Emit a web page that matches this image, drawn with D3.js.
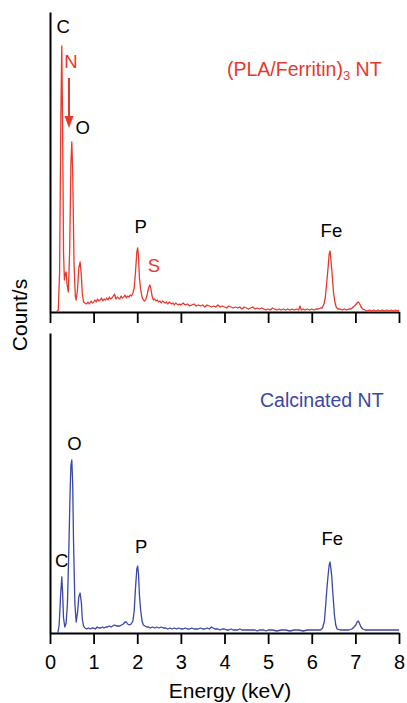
<!DOCTYPE html>
<html>
<head>
<meta charset="utf-8">
<script src="https://cdn.jsdelivr.net/npm/d3@7"></script>
<style>
  body { margin: 0; background: #fff; }
  svg text { font-family: "Liberation Sans", Arial, sans-serif; }
</style>
</head>
<body>
<div id="chart"></div>
<script>
// EDS spectra, energy (keV) vs counts (arbitrary units)
const energyTicks = [0, 1, 2, 3, 4, 5, 6, 7, 8];

const redSpectrum = [
  [0.15,0],[0.19,2],[0.22,40],[0.25,200],[0.27,266],[0.29,180],[0.31,60],[0.33,32],[0.35,38],[0.37,40],
  [0.39,28],[0.42,20],[0.45,60],[0.48,150],[0.50,170],[0.52,140],[0.55,50],[0.58,16],[0.60,12],[0.63,22],
  [0.66,44],[0.69,50],[0.72,36],[0.74,18],[0.77,10],[0.80,9],[0.84,8],[0.87,10],[0.90,8],[0.94,11],
  [0.97,9],[1.00,10],[1.03,12],[1.06,10],[1.09,13],[1.12,11],[1.15,12],[1.18,14],[1.21,11],[1.24,13],
  [1.27,12],[1.30,14],[1.33,12],[1.36,15],[1.39,13],[1.42,14],[1.45,16],[1.48,18],[1.51,13],[1.54,15],
  [1.57,14],[1.60,13],[1.63,16],[1.66,14],[1.69,15],[1.72,17],[1.75,14],[1.78,16],[1.81,15],[1.84,17],
  [1.87,16],[1.90,19],[1.93,24],[1.96,40],[1.99,60],[2.01,64],[2.03,55],[2.05,34],[2.08,22],[2.11,15],
  [2.14,12],[2.17,11],[2.20,13],[2.23,18],[2.26,24],[2.29,27],[2.31,24],[2.34,16],[2.37,12],[2.40,13],
  [2.43,11],[2.46,12],[2.49,10],[2.52,11],[2.55,9],[2.58,11],[2.61,10],[2.64,9],[2.67,10],[2.70,8],
  [2.73,10],[2.76,9],[2.79,8],[2.82,9],[2.85,7],[2.88,9],[2.91,8],[2.94,7],[2.97,8],[3.00,7],
  [3.05,9],[3.10,7],[3.15,8],[3.20,6],[3.25,7],[3.30,8],[3.35,6],[3.40,7],[3.45,6],[3.50,7],
  [3.55,5],[3.60,7],[3.65,6],[3.70,5],[3.75,6],[3.80,5],[3.85,7],[3.90,5],[3.95,6],[4.00,5],
  [4.05,4],[4.10,6],[4.15,5],[4.20,4],[4.25,5],[4.30,4],[4.35,5],[4.40,3],[4.45,5],[4.50,4],
  [4.55,3],[4.60,4],[4.65,5],[4.70,3],[4.75,4],[4.80,3],[4.85,4],[4.90,3],[4.95,2],[5.00,3],
  [5.05,2],[5.10,4],[5.15,3],[5.20,2],[5.25,3],[5.30,2],[5.35,3],[5.40,2],[5.45,3],[5.50,2],
  [5.55,3],[5.60,2],[5.65,3],[5.70,2],[5.73,6],[5.76,2],[5.80,3],[5.85,2],[5.90,3],[5.95,2],
  [6.00,3],[6.05,2],[6.10,3],[6.15,3],[6.20,4],[6.24,4],[6.28,8],[6.31,14],[6.34,28],[6.37,42],
  [6.40,58],[6.42,61],[6.44,52],[6.46,42],[6.48,30],[6.50,19],[6.53,10],[6.56,5],[6.60,3],[6.65,3],
  [6.70,2],[6.75,3],[6.80,2],[6.85,3],[6.90,3],[6.95,5],[7.00,7],[7.04,9],[7.07,10],[7.10,8],
  [7.13,5],[7.17,3],[7.22,2],[7.27,1],[7.32,2],[7.37,1],[7.42,2],[7.47,1],[7.52,2],[7.57,1],
  [7.62,2],[7.67,1],[7.72,2],[7.77,1],[7.82,2],[7.87,1],[7.92,2],[7.97,1],[8.00,2]
];

const blueSpectrum = [
  [0.18,0],[0.21,8],[0.24,35],[0.27,56],[0.29,40],[0.31,15],[0.34,6],[0.37,10],[0.40,30],[0.43,80],
  [0.46,140],[0.48,168],[0.50,173],[0.52,150],[0.54,90],[0.57,30],[0.60,11],[0.63,20],[0.66,36],[0.69,40],
  [0.72,30],[0.74,14],[0.77,7],[0.80,5],[0.84,4],[0.88,5],[0.92,4],[0.96,5],[1.00,5],[1.04,4],
  [1.08,6],[1.12,5],[1.16,5],[1.20,6],[1.24,5],[1.28,6],[1.32,6],[1.36,7],[1.40,6],[1.44,7],
  [1.48,8],[1.52,7],[1.56,7],[1.60,7],[1.64,8],[1.68,9],[1.72,11],[1.75,11],[1.78,9],[1.82,8],
  [1.86,9],[1.90,12],[1.93,22],[1.96,45],[1.99,64],[2.01,67],[2.03,58],[2.05,38],[2.08,22],[2.11,12],
  [2.14,8],[2.18,7],[2.22,6],[2.26,6],[2.30,5],[2.35,6],[2.40,5],[2.45,6],[2.50,5],[2.55,6],
  [2.60,5],[2.65,5],[2.70,4],[2.75,5],[2.80,4],[2.85,5],[2.90,4],[2.95,5],[3.00,4],[3.05,4],
  [3.10,5],[3.15,4],[3.20,4],[3.25,5],[3.30,4],[3.35,4],[3.40,4],[3.45,5],[3.50,4],[3.55,4],
  [3.60,5],[3.65,4],[3.70,6],[3.74,5],[3.78,4],[3.85,4],[3.90,3],[3.95,4],[4.00,4],[4.05,3],
  [4.10,3],[4.15,4],[4.20,3],[4.25,3],[4.30,3],[4.35,4],[4.40,3],[4.45,3],[4.50,3],[4.55,3],
  [4.60,3],[4.65,3],[4.70,3],[4.75,2],[4.80,3],[4.85,3],[4.90,3],[4.95,2],[5.00,3],[5.10,3],
  [5.20,2],[5.30,3],[5.40,3],[5.50,2],[5.60,3],[5.70,3],[5.80,2],[5.90,3],[6.00,3],[6.10,3],
  [6.20,3],[6.25,5],[6.29,12],[6.32,28],[6.35,46],[6.38,60],[6.40,68],[6.42,71],[6.44,64],[6.46,56],
  [6.48,42],[6.50,30],[6.52,18],[6.55,8],[6.58,4],[6.65,3],[6.75,3],[6.85,3],[6.92,4],[6.97,6],
  [7.01,8],[7.04,11],[7.07,12],[7.10,9],[7.13,6],[7.17,4],[7.22,3],[7.30,3],[7.40,3],[7.50,3],
  [7.60,3],[7.70,3],[7.80,3],[7.90,3],[8.00,3]
];

// peak labels: text, energy (keV), count level of the label baseline
const topPeaks = ["C", "O", "P", "Fe"];
const topPeakEnergy = [0.30, 0.75, 2.08, 6.45];
const topPeakLevel = [279, 178, 79, 75];
const topRedPeaks = ["N", "S"];
const topRedEnergy = [0.48, 2.38];
const topRedLevel = [244, 40];

const bottomPeaks = ["C", "O", "P", "Fe"];
const bottomPeakEnergy = [0.27, 0.56, 2.09, 6.47];
const bottomPeakLevel = [66, 183, 80, 88];

const red = "#e6392d";
const blue = "#3a47a5";

const W = 407, H = 703;
const svg = d3.select('#chart').append('svg').attr('width', W).attr('height', H);

const x = d3.scaleLinear().domain([0, 8]).range([50, 399]);
const yTop = d3.scaleLinear().domain([0, 300]).range([312, 12]);
const yBot = d3.scaleLinear().domain([0, 300]).range([633, 333]);

function drawAxes(y, withLabels) {
  const ax = d3.axisBottom(x).tickValues(energyTicks).tickSize(11).tickSizeOuter(0).tickPadding(11);
  if (!withLabels) ax.tickFormat('');
  const g = svg.append('g').attr('transform', `translate(0,${y(0)})`).call(ax);
  g.select('.domain').attr('stroke-width', 2);
  g.selectAll('.tick line').attr('stroke-width', 1.8);
  g.selectAll('.tick text').style('font-size', '20px').attr('fill', '#000');
  const gl = svg.append('g').attr('transform', `translate(${x(0)},0)`)
    .call(d3.axisLeft(y).tickValues([]).tickSizeOuter(0));
  gl.select('.domain').attr('stroke-width', 2);
}

drawAxes(yTop, false);
drawAxes(yBot, true);

function drawSpectrum(data, y, color) {
  const line = d3.line().x(d => x(d[0])).y(d => y(d[1]));
  svg.append('path').datum(data)
    .attr('d', line)
    .attr('fill', 'none')
    .attr('stroke', color)
    .attr('stroke-width', 1.3)
    .attr('stroke-linejoin', 'round');
}

drawSpectrum(redSpectrum, yTop, red);
drawSpectrum(blueSpectrum, yBot, blue);

function drawLabels(names, energies, levels, y, color) {
  names.forEach((t, i) => {
    svg.append('text')
      .attr('x', x(energies[i]))
      .attr('y', y(levels[i]))
      .attr('text-anchor', 'middle')
      .style('font-size', '18.5px')
      .attr('fill', color)
      .text(t);
  });
}

drawLabels(topPeaks, topPeakEnergy, topPeakLevel, yTop, '#000');
drawLabels(topRedPeaks, topRedEnergy, topRedLevel, yTop, red);
drawLabels(bottomPeaks, bottomPeakEnergy, bottomPeakLevel, yBot, '#000');

// red arrow under N
const ax0 = x(0.435);
svg.append('line')
  .attr('x1', ax0).attr('x2', ax0)
  .attr('y1', yTop(234)).attr('y2', yTop(192))
  .attr('stroke', red).attr('stroke-width', 2);
svg.append('path')
  .attr('d', `M${ax0 - 4.5},${yTop(196)} L${ax0 + 4.5},${yTop(196)} L${ax0},${yTop(184)} Z`)
  .attr('fill', red);

// sample names
const t1 = svg.append('text')
  .attr('x', 227).attr('y', 75.5)
  .style('font-size', '19.5px')
  .attr('fill', red);
t1.append('tspan').text('(PLA/Ferritin)');
t1.append('tspan').attr('dy', 4).style('font-size', '13px').text('3');
t1.append('tspan').attr('dy', -4).text(' NT');

svg.append('text')
  .attr('x', 260).attr('y', 406.5)
  .style('font-size', '19.5px')
  .attr('fill', blue)
  .text('Calcinated NT');

// axis titles
svg.append('text')
  .attr('x', 230).attr('y', 698)
  .attr('text-anchor', 'middle')
  .style('font-size', '21px')
  .text('Energy (keV)');

svg.append('text')
  .attr('transform', 'translate(27,315) rotate(-90)')
  .attr('text-anchor', 'middle')
  .style('font-size', '21px')
  .text('Count/s');
</script>
</body>
</html>
